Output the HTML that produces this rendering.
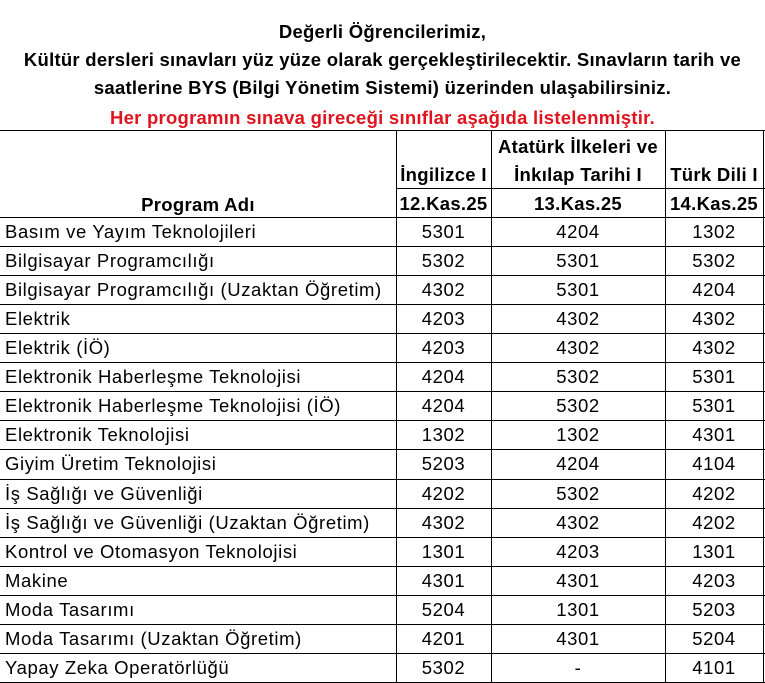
<!DOCTYPE html>
<html><head><meta charset="utf-8"><style>
body{margin:0;width:765px;height:682px;overflow:hidden;background:#fff;font-family:"Liberation Sans",sans-serif;color:#000;position:relative}
.t{position:absolute;left:0;width:765px;text-align:center;font-weight:bold;font-size:18.5px;letter-spacing:0.25px;line-height:20px}
.h{position:absolute;background:#000}
.c{position:absolute;font-size:18.5px;line-height:29px;white-space:nowrap;letter-spacing:0.6px}
.b{font-weight:bold;letter-spacing:0.3px}
</style></head><body>
<div class="t" style="top:22px">Değerli Öğrencilerimiz,</div>
<div class="t" style="top:50px">Kültür dersleri sınavları yüz yüze olarak gerçekleştirilecektir. Sınavların tarih ve</div>
<div class="t" style="top:78px">saatlerine BYS (Bilgi Yönetim Sistemi) üzerinden ulaşabilirsiniz.</div>
<div class="t" style="top:108px;color:#e0141e">Her programın sınava gireceği sınıflar aşağıda listelenmiştir.</div>
<div id="g"></div>
<script>
var g=document.getElementById('g'),H='';
function L(x,y,w,h){H+='<div class="h" style="left:'+x+'px;top:'+y+'px;width:'+w+'px;height:'+h+'px"></div>';}
function C(x,w,y,t,cls,al){H+='<div class="c '+(cls||'')+'" style="left:'+x+'px;width:'+w+'px;top:'+y+'px;text-align:'+(al||'center')+'">'+t+'</div>';}
var X=[0,396,491,665,763];
L(0,130,765,1);L(396,188,369,1);
var rows=[["Basım ve Yayım Teknolojileri","5301","4204","1302"],["Bilgisayar Programcılığı","5302","5301","5302"],["Bilgisayar Programcılığı (Uzaktan Öğretim)","4302","5301","4204"],["Elektrik","4203","4302","4302"],["Elektrik (İÖ)","4203","4302","4302"],["Elektronik Haberleşme Teknolojisi","4204","5302","5301"],["Elektronik Haberleşme Teknolojisi (İÖ)","4204","5302","5301"],["Elektronik Teknolojisi","1302","1302","4301"],["Giyim Üretim Teknolojisi","5203","4204","4104"],["İş Sağlığı ve Güvenliği","4202","5302","4202"],["İş Sağlığı ve Güvenliği (Uzaktan Öğretim)","4302","4302","4202"],["Kontrol ve Otomasyon Teknolojisi","1301","4203","1301"],["Makine","4301","4301","4203"],["Moda Tasarımı","5204","1301","5203"],["Moda Tasarımı (Uzaktan Öğretim)","4201","4301","5204"],["Yapay Zeka Operatörlüğü","5302","-","4101"]];
var rh=29.06;
for(var i=0;i<=16;i++)L(0,Math.round(217+i*rh),765,1);
for(var j=1;j<X.length;j++)L(X[j],130,1,552);
for(var i=0;i<16;i++){var y=Math.round(217+i*rh);
C(5,390,y,rows[i][0],'','left');
for(var k=1;k<4;k++)C(X[k],X[k+1]-X[k],y,rows[i][k]);}
C(0,396,190,'Program Adı','b');
C(396,95,160,'İngilizce I','b');
C(491,174,132,'Atatürk İlkeleri ve','b');
C(491,174,160,'İnkılap Tarihi I','b');
C(665,98,160,'Türk Dili I','b');
C(396,95,189,'12.Kas.25','b');
C(491,174,189,'13.Kas.25','b');
C(665,98,189,'14.Kas.25','b');
g.innerHTML=H;
</script>
</body></html>
